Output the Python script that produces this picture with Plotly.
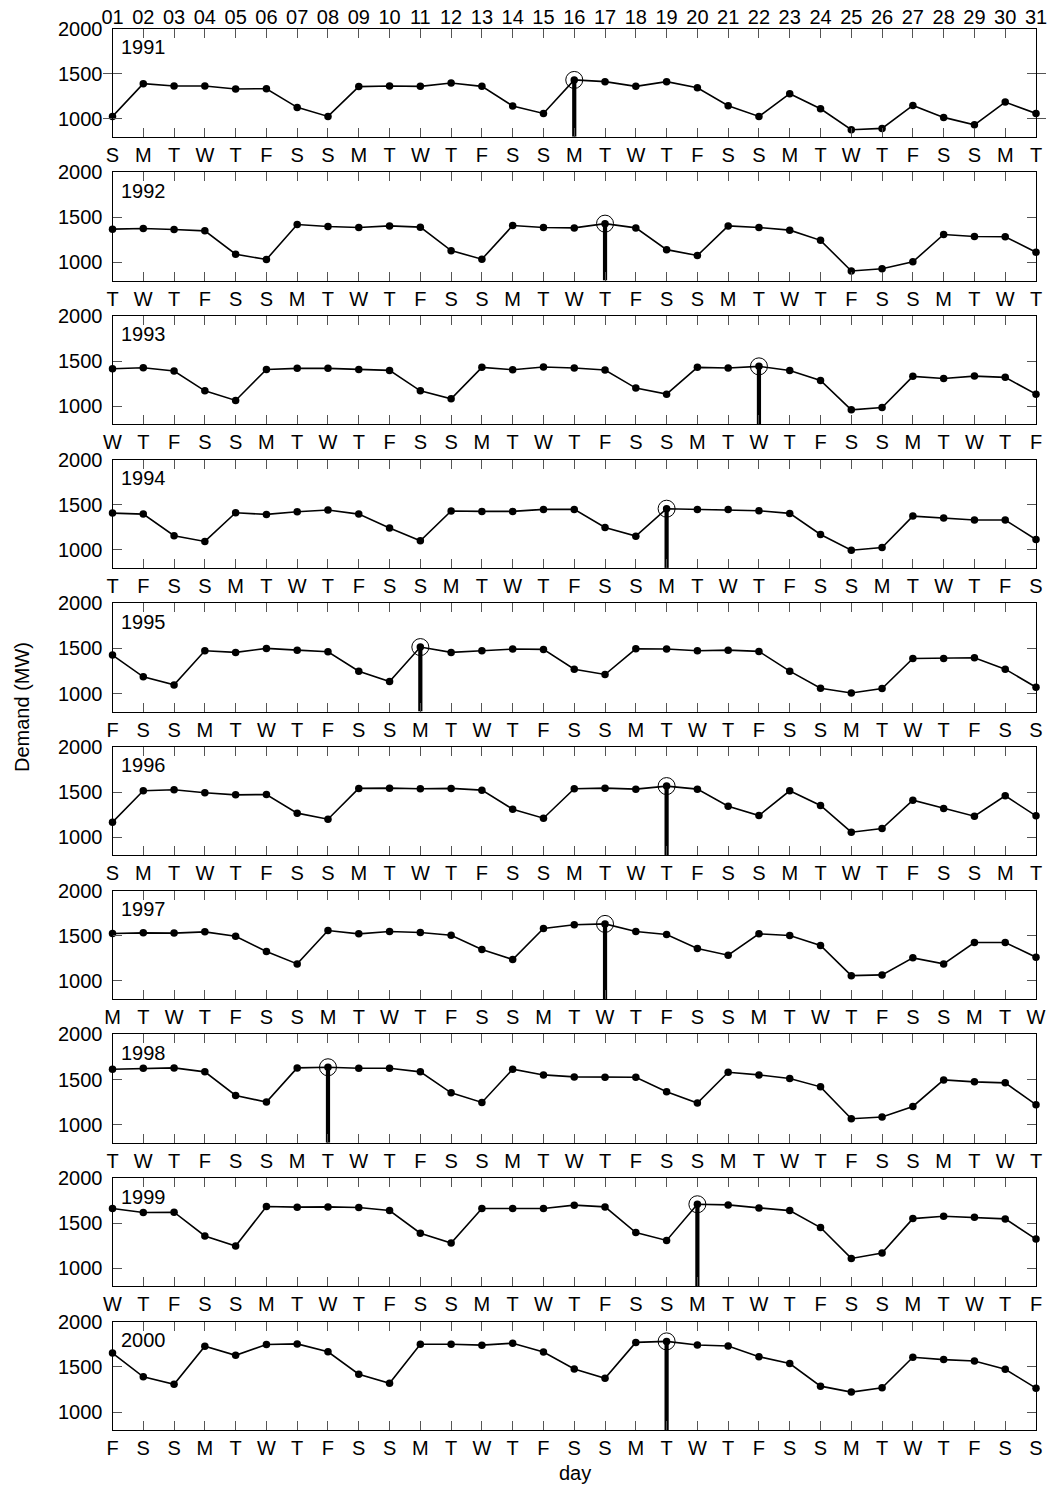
import plotly.graph_objects as go

# December daily peak demand (MW), one panel per year
years = [1991, 1992, 1993, 1994, 1995, 1996, 1997, 1998, 1999, 2000]
days = list(range(1, 32))
day_numbers = [f"{d:02d}" for d in days]

# weekday initials for 1-31 December of each year
weekday_letters = {
    1991: "SMTWTFSSMTWTFSSMTWTFSSMTWTFSSMT",
    1992: "TWTFSSMTWTFSSMTWTFSSMTWTFSSMTWT",
    1993: "WTFSSMTWTFSSMTWTFSSMTWTFSSMTWTF",
    1994: "TFSSMTWTFSSMTWTFSSMTWTFSSMTWTFS",
    1995: "FSSMTWTFSSMTWTFSSMTWTFSSMTWTFSS",
    1996: "SMTWTFSSMTWTFSSMTWTFSSMTWTFSSMT",
    1997: "MTWTFSSMTWTFSSMTWTFSSMTWTFSSMTW",
    1998: "TWTFSSMTWTFSSMTWTFSSMTWTFSSMTWT",
    1999: "WTFSSMTWTFSSMTWTFSSMTWTFSSMTWTF",
    2000: "FSSMTWTFSSMTWTFSSMTWTFSSMTWTFSS",
}

demand_1991 = [1026, 1389, 1363, 1363, 1330, 1333, 1126, 1026, 1356, 1363, 1359,
               1396, 1359, 1141, 1059, 1430, 1411, 1359, 1411, 1344, 1144, 1026,
               1278, 1111, 878, 893, 1148, 1015, 933, 1185, 1059]
demand_1992 = [1369, 1376, 1365, 1350, 1091, 1033, 1420, 1398, 1387, 1405, 1391,
               1131, 1036, 1409, 1387, 1383, 1430, 1383, 1142, 1077, 1405, 1387,
               1358, 1245, 905, 931, 1007, 1310, 1288, 1285, 1113]
demand_1993 = [1415, 1426, 1389, 1170, 1063, 1407, 1419, 1419, 1407, 1396, 1170,
               1081, 1430, 1404, 1433, 1422, 1400, 1200, 1133, 1430, 1422, 1441,
               1396, 1285, 959, 985, 1330, 1307, 1333, 1319, 1133]
demand_1994 = [1407, 1396, 1156, 1093, 1411, 1393, 1422, 1441, 1396, 1241, 1100,
               1430, 1426, 1426, 1448, 1448, 1248, 1152, 1456, 1448, 1448, 1433,
               1404, 1170, 996, 1026, 1374, 1352, 1330, 1330, 1115]
demand_1995 = [1426, 1185, 1096, 1474, 1456, 1500, 1481, 1463, 1248, 1133, 1515,
               1456, 1474, 1493, 1489, 1270, 1211, 1496, 1493, 1474, 1481, 1467,
               1248, 1059, 1007, 1056, 1389, 1389, 1396, 1270, 1070]
demand_1996 = [1167, 1515, 1526, 1493, 1470, 1474, 1267, 1200, 1541, 1544, 1537,
               1541, 1522, 1311, 1211, 1537, 1544, 1533, 1567, 1533, 1344, 1241,
               1515, 1352, 1056, 1096, 1411, 1319, 1233, 1459, 1237]
demand_1997 = [1526, 1533, 1530, 1544, 1496, 1326, 1189, 1559, 1522, 1548, 1537,
               1507, 1348, 1237, 1581, 1622, 1632, 1548, 1515, 1359, 1285, 1522,
               1504, 1393, 1059, 1067, 1256, 1189, 1426, 1426, 1263]
demand_1998 = [1614, 1625, 1629, 1585, 1324, 1250, 1629, 1636, 1625, 1625, 1585,
               1353, 1246, 1614, 1551, 1529, 1526, 1526, 1364, 1239, 1581, 1551,
               1511, 1419, 1066, 1085, 1202, 1496, 1474, 1463, 1221]
demand_1999 = [1663, 1619, 1622, 1359, 1248, 1685, 1678, 1681, 1674, 1641, 1389,
               1281, 1663, 1663, 1663, 1700, 1681, 1396, 1309, 1710, 1703, 1670,
               1640, 1452, 1110, 1169, 1551, 1577, 1566, 1548, 1324]
demand_2000 = [1653, 1391, 1307, 1730, 1628, 1748, 1755, 1668, 1420, 1318, 1752,
               1752, 1741, 1763, 1665, 1478, 1375, 1772, 1783, 1743, 1732, 1614,
               1537, 1287, 1221, 1268, 1607, 1581, 1566, 1474, 1265]

demand = {
    1991: demand_1991, 1992: demand_1992, 1993: demand_1993, 1994: demand_1994,
    1995: demand_1995, 1996: demand_1996, 1997: demand_1997, 1998: demand_1998,
    1999: demand_1999, 2000: demand_2000,
}

y_ticks = [1000, 1500, 2000]
y_min, y_max = 800, 2000

W, H = 1056, 1487
FONT = "Liberation Sans, Arial, Helvetica, sans-serif"
INK = "black"
TICK = "#555555"

# panel geometry in pixels
left_px, right_px = 112.5, 1036.0
top0_px, pitch_px, panel_px = 28.5, 143.7, 108.3

fig = go.Figure()
layout = dict(
    width=W, height=H,
    margin=dict(l=0, r=0, t=0, b=0, autoexpand=False),
    paper_bgcolor="white", plot_bgcolor="white",
    showlegend=False,
    font=dict(family=FONT, size=20, color=INK),
    annotations=[],
)

x_dom = [left_px / W, right_px / W]

for i, yr in enumerate(years):
    n = "" if i == 0 else str(i + 1)
    xa, ya = "x" + n, "y" + n
    top = top0_px + pitch_px * i
    bot = top + panel_px
    vals = demand[yr]

    fig.add_trace(go.Scatter(
        x=days, y=vals, mode="lines+markers", xaxis=xa, yaxis=ya,
        line=dict(color=INK, width=1.6),
        marker=dict(color=INK, size=7.5),
        cliponaxis=False, hoverinfo="skip",
    ))

    # highest day of the month: stem from the axis floor plus a ring
    k = max(range(len(vals)), key=lambda j: vals[j])
    fig.add_trace(go.Scatter(
        x=[days[k], days[k]], y=[y_min, vals[k]], mode="lines",
        xaxis=xa, yaxis=ya, line=dict(color=INK, width=4.2),
        hoverinfo="skip",
    ))
    fig.add_trace(go.Scatter(
        x=[days[k]], y=[vals[k]], mode="markers", xaxis=xa, yaxis=ya,
        marker=dict(symbol="circle-open", size=17, color=INK,
                    line=dict(color=INK, width=1)),
        cliponaxis=False, hoverinfo="skip",
    ))

    layout["xaxis" + n] = dict(
        domain=x_dom, anchor=ya, range=[1, 31], automargin=False,
        tickmode="array", tickvals=days, ticktext=list(weekday_letters[yr]),
        ticks="inside", ticklen=9, tickwidth=1, tickcolor=TICK,
        showline=True, linecolor=INK, linewidth=1, mirror="allticks",
        showgrid=False, zeroline=False,
        tickfont=dict(family=FONT, size=20, color=INK),
    )
    layout["yaxis" + n] = dict(
        domain=[1 - bot / H, 1 - top / H], anchor=xa, automargin=False,
        range=[y_min, y_max], tickmode="array", tickvals=y_ticks,
        ticks="inside", ticklen=9, tickwidth=1, tickcolor=TICK,
        showline=True, linecolor=INK, linewidth=1, mirror="allticks",
        showgrid=False, zeroline=False, ticklabelstandoff=5,
        tickfont=dict(family=FONT, size=20, color=INK),
    )
    layout["annotations"].append(dict(
        text=str(yr), xref=xa + " domain", yref=ya + " domain",
        x=0.007, y=0.83, xanchor="left", yanchor="middle", showarrow=False,
        font=dict(family=FONT, size=20, color=INK),
    ))

# day-of-month numbers along the top of the first panel
layout["xaxis11"] = dict(
    domain=x_dom, anchor="y", overlaying="x", side="top", range=[1, 31],
    automargin=False,
    tickmode="array", tickvals=days, ticktext=day_numbers,
    ticks="", showline=False, showgrid=False, zeroline=False,
    tickfont=dict(family=FONT, size=20, color=INK),
)
fig.add_trace(go.Scatter(x=[1], y=[y_min], xaxis="x11", yaxis="y", mode="markers",
                         marker=dict(size=0.1, opacity=0), hoverinfo="skip"))

layout["annotations"].append(dict(
    text="Demand (MW)", xref="paper", yref="paper", x=22 / W, y=1 - 707 / H,
    textangle=-90, showarrow=False, xanchor="center", yanchor="middle",
    font=dict(family=FONT, size=20, color=INK),
))
layout["annotations"].append(dict(
    text="day", xref="paper", yref="paper", x=575 / W, y=1 - 1473 / H,
    showarrow=False, xanchor="center", yanchor="middle",
    font=dict(family=FONT, size=20, color=INK),
))

fig.update_layout(**layout)
fig.write_html("out.html")
